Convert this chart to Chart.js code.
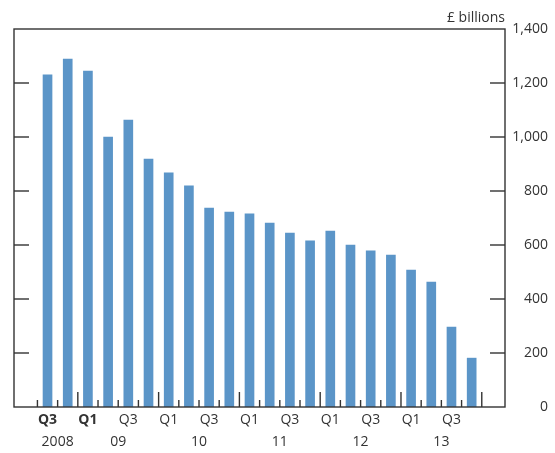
<!DOCTYPE html>
<html>
<head>
<meta charset="utf-8">
<script src="https://cdn.jsdelivr.net/npm/chart.js@4/dist/chart.umd.min.js"></script>
<style>
  html, body { margin: 0; padding: 0; background: #fff; }
  #wrap { width: 555px; height: 453px; position: relative; }
</style>
</head>
<body>
<div id="wrap"><canvas id="c" width="555" height="453"></canvas></div>
<script>
// ---- Data ----
const quarters = ['Q3','Q4','Q1','Q2','Q3','Q4','Q1','Q2','Q3','Q4','Q1','Q2','Q3','Q4','Q1','Q2','Q3','Q4','Q1','Q2','Q3','Q4'];
const years    = ['2008','2008','09','09','09','09','10','10','10','10','11','11','11','11','12','12','12','12','13','13','13','13'];
const values   = [1230,1289,1244,1000,1063,918,867,819,737,722,715,681,644,615,652,600,578,563,507,463,296,181];
const yTicks   = [0,200,400,600,800,1000,1200,1400];
const unitLabel = '£ billions';

// ---- Derived tick lists ----
const qTickValues = quarters.map((q,i)=>i).filter(i => quarters[i]==='Q1' || quarters[i]==='Q3');
const yearNames = [...new Set(years)];
const yearTicks = yearNames.map(y => {
  const idx = years.map((v,i)=>v===y?i:-1).filter(i=>i>=0);
  return { value: (idx[0] + idx[idx.length-1]) / 2, label: y };
});

const FONT = "'Open Sans', 'Noto Sans', 'DejaVu Sans', sans-serif";
const TEXT = '#333';
const LINE = '#333';

const framePlugin = {
  id: 'frame',
  afterDatasetsDraw(chart) {
    const { ctx, chartArea: a, scales } = chart;
    ctx.save();
    ctx.strokeStyle = LINE;
    ctx.lineWidth = 1.4;
    ctx.strokeRect(a.left, a.top, a.right - a.left, a.bottom - a.top);
    const line = (x1,y1,x2,y2) => { ctx.beginPath(); ctx.moveTo(x1,y1); ctx.lineTo(x2,y2); ctx.stroke(); };
    // y ticks inward on both sides
    scales.y.ticks.forEach(t => {
      if (t.value <= yTicks[0] || t.value >= yTicks[yTicks.length-1]) return;
      const y = scales.y.getPixelForValue(t.value);
      line(a.left, y, a.left + 15, y);
      line(a.right - 15, y, a.right, y);
    });
    // x ticks at category boundaries
    for (let i = 0; i <= quarters.length; i++) {
      const x = scales.x.getPixelForValue(i - 0.5);
      const tall = (quarters[i] === 'Q1') || i === quarters.length;
      line(x, a.bottom, x, a.bottom - (tall ? 15 : 7));
    }
    // unit label
    ctx.fillStyle = TEXT;
    ctx.font = "14px " + FONT;
    ctx.textAlign = 'right';
    ctx.textBaseline = 'alphabetic';
    ctx.fillText(unitLabel, a.right, a.top - 7);
    ctx.restore();
  }
};

new Chart(document.getElementById('c'), {
  type: 'bar',
  data: {
    datasets: [{
      data: values.map((v,i) => ({ x: i, y: v })),
      backgroundColor: 'rgb(91,149,200)',
      borderWidth: 0,
      barThickness: 9,
      xAxisID: 'x',
      yAxisID: 'y'
    }]
  },
  plugins: [framePlugin],
  options: {
    responsive: false,
    animation: false,
    layout: { padding: { left: 14, top: 29, right: 7, bottom: 0 } },
    plugins: { legend: { display: false }, tooltip: { enabled: false }, title: { display: false } },
    scales: {
      x: {
        type: 'linear',
        position: 'bottom',
        offset: false,
        min: -1.66, max: 22.65,
        grid: { display: false, drawTicks: false },
        border: { display: false },
        afterBuildTicks: s => { s.ticks = qTickValues.map(v => ({ value: v })); },
        afterFit: s => { s.height = 23; },
        ticks: {
          autoSkip: false, maxRotation: 0, padding: 5,
          color: TEXT,
          font: ctx => ({ family: FONT, size: 14, weight: ctx.index < 2 ? 'bold' : 'normal' }),
          callback: v => quarters[v]
        }
      },
      x2: {
        type: 'linear',
        position: 'bottom',
        offset: false,
        min: -1.66, max: 22.65,
        grid: { display: false, drawTicks: false },
        border: { display: false },
        afterBuildTicks: s => { s.ticks = yearTicks.map(t => ({ value: t.value })); },
        afterFit: s => { s.height = 23; },
        ticks: {
          autoSkip: false, maxRotation: 0, padding: 4,
          color: TEXT,
          font: { family: FONT, size: 14 },
          callback: v => { const t = yearTicks.find(t => Math.abs(t.value - v) < 1e-6); return t ? t.label : ''; }
        }
      },
      y: {
        position: 'right',
        min: yTicks[0], max: yTicks[yTicks.length-1],
        grid: { display: false, drawTicks: false },
        border: { display: false },
        afterBuildTicks: s => { s.ticks = yTicks.map(v => ({ value: v })); },
        afterFit: s => { s.width = 43; },
        ticks: {
          padding: 6,
          crossAlign: 'far',
          color: TEXT,
          font: { family: FONT, size: 14 },
          callback: v => v.toLocaleString('en-GB')
        }
      }
    }
  }
});
</script>
</body>
</html>
